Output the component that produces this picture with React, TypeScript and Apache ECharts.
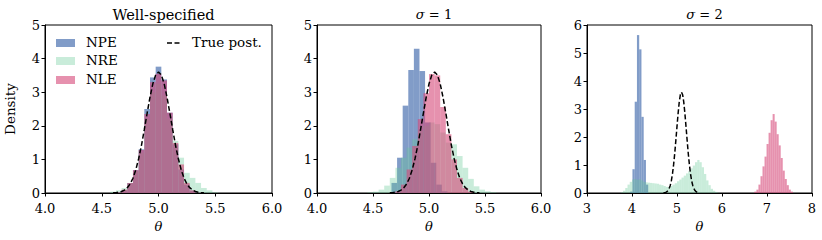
import React, { useEffect, useRef } from "react";
import * as echarts from "echarts";

const FONT = "DejaVu Serif";

// Axes
const X_MIN = [4, 4, 3];
const X_MAX = [6, 6, 8];
const X_INTERVAL = [0.5, 0.5, 1];
const X_DECIMALS = [1, 1, 0];
const Y_MAX = [5, 5, 6];
const TITLES = ["Well-specified", "{i|σ} = 1", "{i|σ} = 2"];

// Legend
const SERIES_NAMES = ["NPE", "NRE", "NLE"];
const COLORS = ["rgba(76,114,176,0.7)", "rgba(100,200,150,0.35)", "rgba(214,72,120,0.6)"];
const TRUE_NAME = "True post.";

// Histograms: [start, binWidth] and densities per bin
const P1_NPE_BINS = [4.575, 0.05];
const P1_NPE = [0, 0.02, 0.08, 0.3, 0.68, 1.3, 2.5, 3.44, 3.76, 3.38, 2.39, 1.45, 0.7, 0.25, 0.07, 0.01];
const P1_NRE_BINS = [4.575, 0.05];
const P1_NRE = [0.04, 0.08, 0.15, 0.3, 0.65, 1.2, 2.2, 3.0, 3.25, 2.9, 2.2, 1.55, 1.05, 0.6, 0.45, 0.3, 0.15, 0.08, 0.02];
const P1_NLE_BINS = [4.575, 0.05];
const P1_NLE = [0, 0.02, 0.1, 0.3, 0.68, 1.28, 2.35, 3.3, 3.55, 3.35, 2.39, 1.49, 0.85, 0.3, 0.08, 0.01];

const P2_NPE_BINS = [4.665, 0.05];
const P2_NPE = [0.3, 1.05, 2.6, 3.66, 4.29, 3.63, 2.1, 0.9, 0.25, 0.05];
const P2_NRE_BINS = [4.45, 0.05];
const P2_NRE = [0.02, 0.04, 0.1, 0.22, 0.45, 0.75, 1.05, 1.35, 1.6, 1.85, 2.0, 2.1, 2.05, 1.8, 1.5, 1.45, 1.1, 0.75, 0.42, 0.2, 0.1, 0.05, 0.02];
const P2_NLE_BINS = [4.7, 0.05];
const P2_NLE = [0.05, 0.25, 0.7, 1.4, 2.2, 2.97, 3.54, 3.5, 2.56, 1.75, 1.0, 0.45, 0.15, 0.04];

const P3_NPE_BINS = [3.96, 0.05];
const P3_NPE = [0.05, 0.85, 3.26, 5.64, 5.13, 2.72, 1.18, 0.3];
const P3_NRE_BINS = [3.75, 0.05];
const P3_NRE = [0.03, 0.08, 0.18, 0.3, 0.4, 0.48, 0.5, 0.47, 0.5, 0.45, 0.4, 0.38, 0.37, 0.36, 0.35, 0.34, 0.33, 0.3, 0.28, 0.25, 0.22, 0.22, 0.25, 0.3, 0.35, 0.42, 0.48, 0.55, 0.62, 0.7, 0.78, 0.88, 0.98, 1.1, 1.18, 1.1, 0.92, 0.68, 0.45, 0.28, 0.15, 0.08, 0.04, 0.01];
const P3_NLE_BINS = [6.72, 0.045];
const P3_NLE = [0.05, 0.12, 0.3, 0.6, 0.95, 1.3, 1.75, 2.15, 2.6, 2.82, 2.55, 2.1, 1.7, 1.25, 0.8, 0.5, 0.28, 0.12, 0.05];

// True posterior: centre per panel, offsets and read densities
const TRUE_MEANS = [5.0, 5.05, 5.1];
const TRUE_OFFSETS = [-0.4, -0.375, -0.35, -0.325, -0.3, -0.275, -0.25, -0.225, -0.2, -0.175, -0.15, -0.125, -0.1, -0.075, -0.05, -0.025, 0, 0.025, 0.05, 0.075, 0.1, 0.125, 0.15, 0.175, 0.2, 0.225, 0.25, 0.275, 0.3, 0.325, 0.35, 0.375, 0.4];
const TRUE_DENS = [0.005, 0.011, 0.023, 0.046, 0.087, 0.158, 0.27, 0.44, 0.69, 1.02, 1.42, 1.89, 2.38, 2.85, 3.25, 3.51, 3.6, 3.51, 3.25, 2.85, 2.38, 1.89, 1.42, 1.02, 0.69, 0.44, 0.27, 0.158, 0.087, 0.046, 0.023, 0.011, 0.005];

const HISTS = [
  [[P1_NPE_BINS, P1_NPE], [P1_NRE_BINS, P1_NRE], [P1_NLE_BINS, P1_NLE]],
  [[P2_NPE_BINS, P2_NPE], [P2_NRE_BINS, P2_NRE], [P2_NLE_BINS, P2_NLE]],
  [[P3_NPE_BINS, P3_NPE], [P3_NRE_BINS, P3_NRE], [P3_NLE_BINS, P3_NLE]],
];

const GRIDS = [
  { left: 45, top: 25, width: 227, height: 168 },
  { left: 317, top: 25, width: 224, height: 168 },
  { left: 587, top: 25, width: 225, height: 168 },
];

function buildOption() {
  const grid = GRIDS.map((g) => ({ ...g, show: true, borderColor: "#000", borderWidth: 1, backgroundColor: "transparent" }));
  const xAxis = GRIDS.map((_, i) => ({
    type: "value",
    gridIndex: i,
    min: X_MIN[i],
    max: X_MAX[i],
    interval: X_INTERVAL[i],
    z: 5,
    name: "θ",
    nameLocation: "middle",
    nameGap: 21,
    nameTextStyle: { fontFamily: FONT, fontStyle: "italic", fontSize: 13, color: "#000" },
    axisLine: { show: true, lineStyle: { color: "#000", width: 1 } },
    axisTick: { show: true, length: 3.5, lineStyle: { color: "#000", width: 1 } },
    axisLabel: {
      show: true,
      color: "#000",
      fontFamily: FONT,
      fontSize: 13,
      margin: 9,
      formatter: (v: number) => v.toFixed(X_DECIMALS[i]),
    },
    splitLine: { show: false },
  }));
  const yAxis = GRIDS.map((_, i) => ({
    type: "value",
    gridIndex: i,
    min: 0,
    max: Y_MAX[i],
    interval: 1,
    z: 5,
    name: i === 0 ? "Density" : "",
    nameLocation: "middle",
    nameGap: 28,
    nameTextStyle: { fontFamily: FONT, fontSize: 13.5, color: "#000" },
    axisLine: { show: true, lineStyle: { color: "#000", width: 1 } },
    axisTick: { show: true, length: 3.5, lineStyle: { color: "#000", width: 1 } },
    axisLabel: { show: true, color: "#000", fontFamily: FONT, fontSize: 13, margin: 5 },
    splitLine: { show: false },
  }));

  const series: any[] = [];
  HISTS.forEach((panel, pi) => {
    panel.forEach(([bins, heights], si) => {
      const [start, w] = bins as number[];
      const data = (heights as number[]).map((h, k) => [start + k * w, start + (k + 1) * w, h]);
      const color = COLORS[si];
      series.push({
        type: "custom",
        name: SERIES_NAMES[si],
        xAxisIndex: pi,
        yAxisIndex: pi,
        z: 2 + si,
        encode: { x: [0, 1], y: 2 },
        itemStyle: { color },
        data,
        renderItem: (_p: any, api: any) => {
          const a = api.coord([api.value(0), api.value(2)]);
          const b = api.coord([api.value(1), 0]);
          return {
            type: "rect",
            shape: { x: a[0], y: a[1], width: b[0] - a[0], height: b[1] - a[1] },
            style: { fill: color },
          };
        },
      });
    });
    series.push({
      type: "line",
      name: TRUE_NAME,
      xAxisIndex: pi,
      yAxisIndex: pi,
      z: 6,
      showSymbol: false,
      symbol: "none",
      data: TRUE_OFFSETS.map((o, k) => [TRUE_MEANS[pi] + o, TRUE_DENS[k]]),
      lineStyle: { color: "#000", width: 1.5, type: [5, 2.5] },
    });
  });

  const title = GRIDS.map((g, i) => ({
    text: TITLES[i],
    left: g.left + g.width / 2,
    top: i === 0 ? 2 : 3,
    textAlign: "center",
    textStyle: {
      fontFamily: FONT,
      fontSize: i === 0 ? 14.5 : 13,
      fontWeight: "normal",
      color: "#000",
      rich: { i: { fontFamily: FONT, fontStyle: "italic", fontSize: 13, color: "#000" } },
    },
  }));

  const legendY = [43, 61, 80];
  const graphic: any[] = [];
  SERIES_NAMES.forEach((n, i) => {
    graphic.push({ type: "rect", left: 56, top: legendY[i] - 4, shape: { width: 19, height: 8 }, style: { fill: COLORS[i] } });
    graphic.push({ type: "text", left: 86, top: legendY[i] - 8, style: { text: n, fontFamily: FONT, fontSize: 13.5, fill: "#000" } });
  });
  graphic.push({ type: "line", shape: { x1: 167, y1: 43, x2: 182, y2: 43 }, style: { stroke: "#000", lineWidth: 1.5, lineDash: [5, 2.5] } });
  graphic.push({ type: "text", left: 192, top: 43 - 8, style: { text: TRUE_NAME, fontFamily: FONT, fontSize: 13.5, fill: "#000" } });

  return {
    animation: false,
    backgroundColor: "#fff",
    textStyle: { fontFamily: FONT, fontSize: 13, color: "#000" },
    grid,
    xAxis,
    yAxis,
    series,
    title,
    graphic,
  };
}

export default function App() {
  const ref = useRef<HTMLDivElement>(null);
  useEffect(() => {
    if (!ref.current) return;
    const chart = echarts.init(ref.current, undefined, { renderer: "svg" });
    chart.setOption(buildOption() as any);
    return () => chart.dispose();
  }, []);
  return <div ref={ref} style={{ position: "fixed", left: 0, top: 0, width: 822, height: 240 }} />;
}
